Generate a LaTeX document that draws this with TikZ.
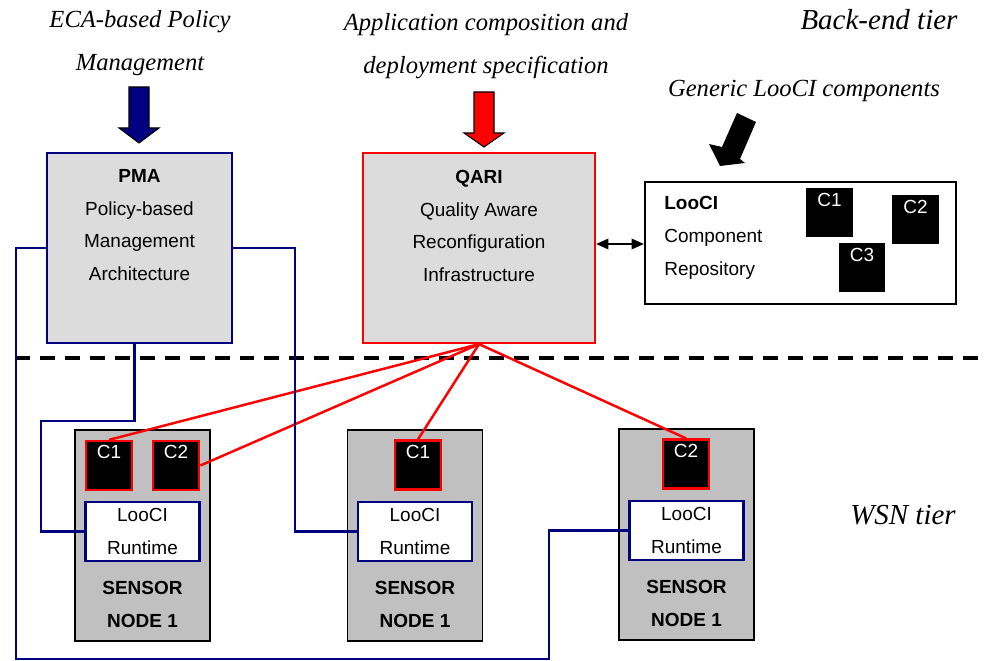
\documentclass[tikz,border=0pt]{standalone}
\usepackage{fontspec}
\setmainfont{Liberation Serif}
\setsansfont{Liberation Sans}
\usetikzlibrary{arrows.meta,positioning,calc}
\definecolor{pmanavy}{RGB}{0,0,128}
\definecolor{qarired}{RGB}{255,0,0}
\definecolor{boxgray}{RGB}{220,220,220}
\definecolor{nodegray}{RGB}{192,192,192}

\begin{document}
\begin{tikzpicture}[x=0.02cm, y=-0.02cm,
  txt/.style={font=\sffamily\fontsize{10.8}{18.7}\selectfont, align=center, inner sep=0pt},
  title/.style={font=\itshape\fontsize{14}{24.4}\selectfont, align=center, inner sep=0pt},
  tier/.style={font=\itshape\fontsize{16.5}{20}\selectfont, inner sep=0pt},
  upbox/.style={fill=boxgray, line width=1.3pt, minimum width=#1, minimum height=3.8cm, inner sep=0pt},
  sensor/.style={draw=black, fill=nodegray, line width=1pt, minimum width=2.7cm, minimum height=4.22cm, inner sep=0pt},
  runtime/.style={txt, draw=pmanavy, fill=white, line width=1.3pt, minimum width=2.28cm, minimum height=1.18cm},
  comptxt/.style={text=white, anchor=north, inner sep=3pt, font=\sffamily\fontsize{10.8}{12}\selectfont},
  comp/.style={fill=black, minimum width=0.93cm, minimum height=0.98cm, inner sep=0pt, label={[comptxt]north:#1}},
  deployed/.style={comp=#1, draw=qarired, line width=1.3pt},
  bus/.style={pmanavy, line width=1.4pt},
  deploy/.style={qarired, line width=1.4pt},
]
\useasboundingbox (0,0) rectangle (985,661);

% Titles on top
\node[title] (ecatxt) at (140,43) {ECA-based Policy\\Management};
\node[title] (apptxt) at (486,46) {Application composition and\\deployment specification};
\node[title] (gentxt) at (804,91) {Generic LooCI components};
\node[tier] (backend) at (879,20) {Back-end tier};
\node[tier] (wsn) at (903,515) {WSN tier};

% Block arrows
\filldraw[fill=pmanavy, draw=black, line width=0.6pt]
  (129,87) -- (149,87) -- (149,128) -- (159,128) -- (139,143) -- (119,128) -- (129,128) -- cycle;
\filldraw[fill=qarired, draw=black, line width=0.6pt]
  (474,92) -- (494,92) -- (494,133) -- (504,133) -- (484,147) -- (464,133) -- (474,133) -- cycle;
\fill[black]
  (737,113) -- (756,122) -- (740,159) -- (745,163) -- (720,166) -- (709,144) -- (722,147) -- cycle;

% PMA
\node[upbox=3.7cm, draw=pmanavy] (pma) at (139.5,248) {};
\node[txt] (pmatxt) at (139.5,225) {\textbf{PMA}\\Policy-based\\Management\\Architecture};

% QARI
\node[upbox=4.64cm, draw=qarired] (qari) at (479,248) {};
\node[txt] (qaritxt) at (479,226) {\textbf{QARI}\\Quality Aware\\Reconfiguration\\Infrastructure};

% LooCI component repository
\node[draw=black, fill=white, line width=1.3pt, minimum width=6.22cm, minimum height=2.44cm, inner sep=0pt] (repo) at (800.5,243) {};
\node[txt, align=left, anchor=west] (repotxt) at (664,238) {\textbf{LooCI}\\Component\\Repository};
\node[comp=C1] (rc1) at (829.5,212.5) {};
\node[comp=C2] (rc2) at (915.5,219.5) {};
\node[comp=C3] (rc3) at (862,267.5) {};
\draw[{Triangle[length=7pt,width=6pt]}-{Triangle[length=7pt,width=6pt]}, line width=0.9pt] (qari.east |- 0,244) -- (repo.west |- 0,244);

% tier separator
\draw[black, line width=2.3pt, dash pattern=on 8.5pt off 5.7pt] (15,358) -- (985,358);

% Sensor nodes
\foreach \nm/\cx/\cy in {sa/142.5/535.5, sb/415/535.5, sc/686.5/534.5} {
  \node[sensor] (\nm) at (\cx,\cy) {};
  \node[runtime] (\nm-rt) at (\cx,\cy-4) {LooCI\\Runtime};
  \node[txt, font=\sffamily\bfseries\fontsize{10.8}{18.7}\selectfont] (\nm-txt) at (\cx,\cy+69) {SENSOR\\NODE 1};
}
\node[deployed=C1] (sa-c1) at (109,465.5) {};
\node[deployed=C2] (sa-c2) at (176,465.5) {};
\node[deployed=C1] (sb-c1) at (418,465) {};
\node[deployed=C2] (sc-c2) at (686,464) {};

% QARI deployment links
\draw[deploy] (qari.south) -- (sa-c1.north);
\draw[deploy] (qari.south) -- (sa-c2.east);
\draw[deploy] (qari.south) -- (sb-c1.north);
\draw[deploy] (qari.south) -- (sc-c2.north);

% PMA management links
\draw[bus] ([xshift=-0.1cm]pma.south) |- (41,421) |- (sa-rt.west);
\draw[bus] (pma.east) -- (295,248) |- (sb-rt.west);
\draw[bus] (pma.west) -- (16,248) |- (549,659) |- (sc-rt.west);
\end{tikzpicture}
\end{document}
